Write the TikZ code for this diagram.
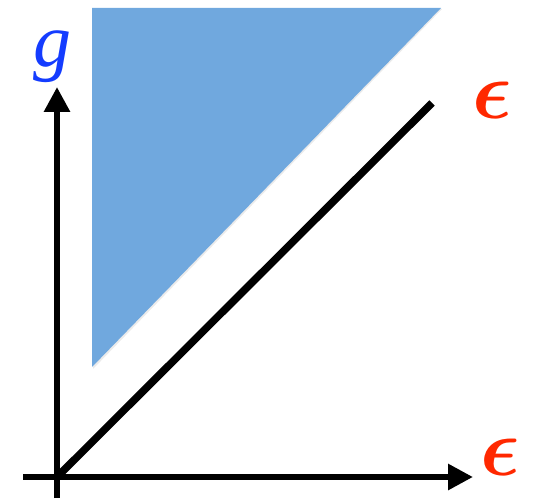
\documentclass[tikz,border=0pt]{standalone}
\usepackage{graphicx}
\usepackage{bm}
\usepackage{fontspec}
\newfontfamily\timesit{Liberation Serif}[ItalicFont={* Italic}]
\usetikzlibrary{arrows.meta}
\definecolor{tri}{RGB}{112,168,222}
\definecolor{lblred}{RGB}{255,40,0}
\definecolor{lblblue}{RGB}{20,60,255}
\tikzset{
  axis/.style={line width=6pt,-{Triangle[length=25pt,width=25pt]}},
  lbl/.style={inner sep=0pt,font=\Huge}
}
\begin{document}
\begin{tikzpicture}[x=1pt,y=1pt]
\useasboundingbox (0,0) rectangle (537,501);
\fill[black!8] (93,492) -- (442,492) -- (93,132) -- cycle;
\fill[tri] (92,493) -- (441,493) -- (92,134) -- cycle;
\coordinate (O) at (57,24);
\coordinate (ybot) at (57,3);
\coordinate (ytop) at (57,414);
\coordinate (xleft) at (23,24);
\coordinate (xright) at (473,24);
\coordinate (dend) at (432,398);
\draw[axis] (ybot) -- (ytop);
\draw[axis] (xleft) -- (xright);
\draw[line width=7.5pt] (O) -- (dend);
\node[lbl,text=lblblue,anchor=base,font=\fontsize{76}{76}\selectfont\timesit\itshape] (g) at (52,434) {g};
\node[lbl,text=lblred] (e1) at (492,401) {\scalebox{3.3}{$\bm{\epsilon}$}};
\node[lbl,text=lblred] (e2) at (500,44) {\scalebox{3.3}{$\bm{\epsilon}$}};
\end{tikzpicture}
\end{document}
